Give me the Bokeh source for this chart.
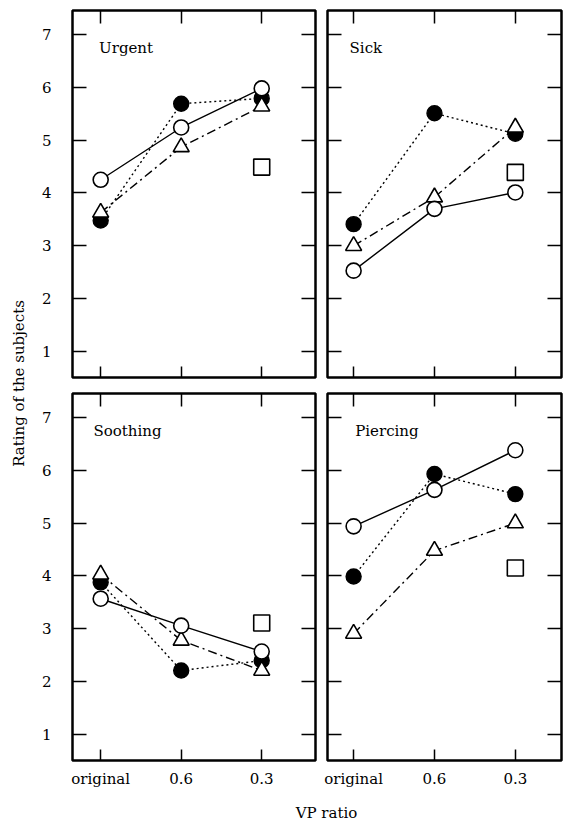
import math
from bokeh.plotting import figure
from bokeh.models import Range1d, LinearAxis, FixedTicker, Label
from bokeh.layouts import row, column
from bokeh.embed import file_html
from bokeh.resources import INLINE

# ---------------- data ----------------
categories = ["original", "0.6", "0.3"]
y_ticks = [1, 2, 3, 4, 5, 6, 7]
panel_names = ["Urgent", "Sick", "Soothing", "Piercing"]

urgent_open = [4.25, 5.24, 5.98]
urgent_filled = [3.48, 5.69, 5.79]
urgent_triangle = [3.63, 4.87, 5.64]
urgent_square = [4.49]

sick_open = [2.53, 3.70, 4.01]
sick_filled = [3.41, 5.51, 5.12]
sick_triangle = [3.00, 3.92, 5.24]
sick_square = [4.39]

soothing_open = [3.57, 3.06, 2.57]
soothing_filled = [3.88, 2.21, 2.40]
soothing_triangle = [4.03, 2.78, 2.21]
soothing_square = [3.11]

piercing_open = [4.94, 5.63, 6.38]
piercing_filled = [3.99, 5.93, 5.55]
piercing_triangle = [2.91, 4.48, 5.00]
piercing_square = [4.15]

FONT = "DejaVu Serif"
FS = "15px"
xs = list(range(len(categories)))


def make_axis(ticks, tick_in, labels=None, standoff=0):
    ax = LinearAxis(ticker=FixedTicker(ticks=ticks), major_tick_in=tick_in,
                    major_tick_out=0, minor_tick_in=0, minor_tick_out=0,
                    axis_line_color=None, major_tick_line_color="black",
                    major_tick_line_width=1.5)
    if labels is None:
        ax.major_label_overrides = {t: "" for t in ticks}
        ax.major_label_text_font_size = "0px"
        ax.major_label_standoff = 0
    else:
        ax.major_label_overrides = labels
        ax.major_label_text_font = FONT
        ax.major_label_text_font_size = FS
        ax.major_label_text_color = "black"
        ax.major_label_standoff = standoff
    return ax


def make_panel(name, opn, fil, tri, sq, width, height, xr, borders,
               show_x, show_y, label_x):
    p = figure(width=width, height=height, x_range=Range1d(*xr),
               y_range=Range1d(0.508, 7.454), output_backend="svg",
               toolbar_location=None, tools="",
               x_axis_location=None, y_axis_location=None,
               min_border_left=borders[0], min_border_right=borders[1],
               min_border_top=borders[2], min_border_bottom=borders[3])
    p.xgrid.visible = False
    p.ygrid.visible = False
    p.outline_line_color = "black"
    p.outline_line_width = 2.5
    p.background_fill_color = "white"
    p.border_fill_color = "white"

    xlabels = {i: c for i, c in enumerate(categories)} if show_x else None
    ylabels = {t: str(t) for t in y_ticks} if show_y else None
    p.add_layout(make_axis(xs, 11, xlabels, 9), "below")
    p.add_layout(make_axis(xs, 13), "above")
    p.add_layout(make_axis(y_ticks, 14, ylabels, 21), "left")
    p.add_layout(make_axis(y_ticks, 14), "right")

    # lines
    p.line(xs, opn, line_color="black", line_width=1.4)
    p.line(xs, fil, line_color="black", line_width=1.4, line_dash="2 3")
    p.line(xs, tri, line_color="black", line_width=1.4, line_dash="9 4 2 4")
    # markers
    p.scatter(xs, fil, marker="circle", size=15, fill_color="black",
              line_color="black", line_width=1.4)
    p.scatter(xs, tri, marker="triangle", size=16, fill_color="white",
              line_color="black", line_width=1.6)
    p.scatter(xs, opn, marker="circle", size=15, fill_color="white",
              line_color="black", line_width=1.6)
    p.scatter([xs[-1]], sq, marker="square", size=16, fill_color="white",
              line_color="black", line_width=1.6)

    p.add_layout(Label(x=label_x, y=6.74, text=name, text_font=FONT,
                       text_font_size=FS, text_align="left",
                       text_baseline="alphabetic", text_color="black"))
    return p


left_xr = (-0.35, 2.668)
right_xr = (-0.323, 2.571)

tl = make_panel(panel_names[0], urgent_open, urgent_filled, urgent_triangle,
                urgent_square, 291, 385, left_xr, (42, 6, 10, 8), False, True, -0.02)
tr = make_panel(panel_names[1], sick_open, sick_filled, sick_triangle,
                sick_square, 242, 385, right_xr, (6, 2, 10, 8), False, False, -0.05)
bl = make_panel(panel_names[2], soothing_open, soothing_filled, soothing_triangle,
                soothing_square, 291, 405, left_xr, (42, 6, 8, 30), True, True, -0.09)
br = make_panel(panel_names[3], piercing_open, piercing_filled, piercing_triangle,
                piercing_square, 242, 405, right_xr, (6, 2, 8, 30), True, False, 0.02)

# y-axis title strip
yl = figure(width=30, height=760, x_range=Range1d(0, 30), y_range=Range1d(0, 760),
            output_backend="svg", toolbar_location=None, tools="",
            x_axis_location=None, y_axis_location=None, min_border=0,
            min_border_left=0, min_border_right=0, min_border_top=0,
            min_border_bottom=0)
yl.grid.visible = False
yl.outline_line_color = None
yl.add_layout(Label(x=18, y=377, text="Rating of the subjects", angle=math.pi / 2,
                    text_font=FONT, text_font_size=FS, text_align="center",
                    text_baseline="middle", text_color="black"))

# x-axis title strip
xl = figure(width=533, height=36, x_range=Range1d(0, 533), y_range=Range1d(0, 36),
            output_backend="svg", toolbar_location=None, tools="",
            x_axis_location=None, y_axis_location=None, min_border=0,
            min_border_left=0, min_border_right=0, min_border_top=0,
            min_border_bottom=0)
xl.grid.visible = False
xl.outline_line_color = None
xl.add_layout(Label(x=296, y=14, text="VP ratio", text_font=FONT,
                    text_font_size=FS, text_align="center",
                    text_baseline="middle", text_color="black"))

layout = row(yl, column(row(tl, tr), row(bl, br), xl))

open("out.html", "w").write(file_html(layout, INLINE))
